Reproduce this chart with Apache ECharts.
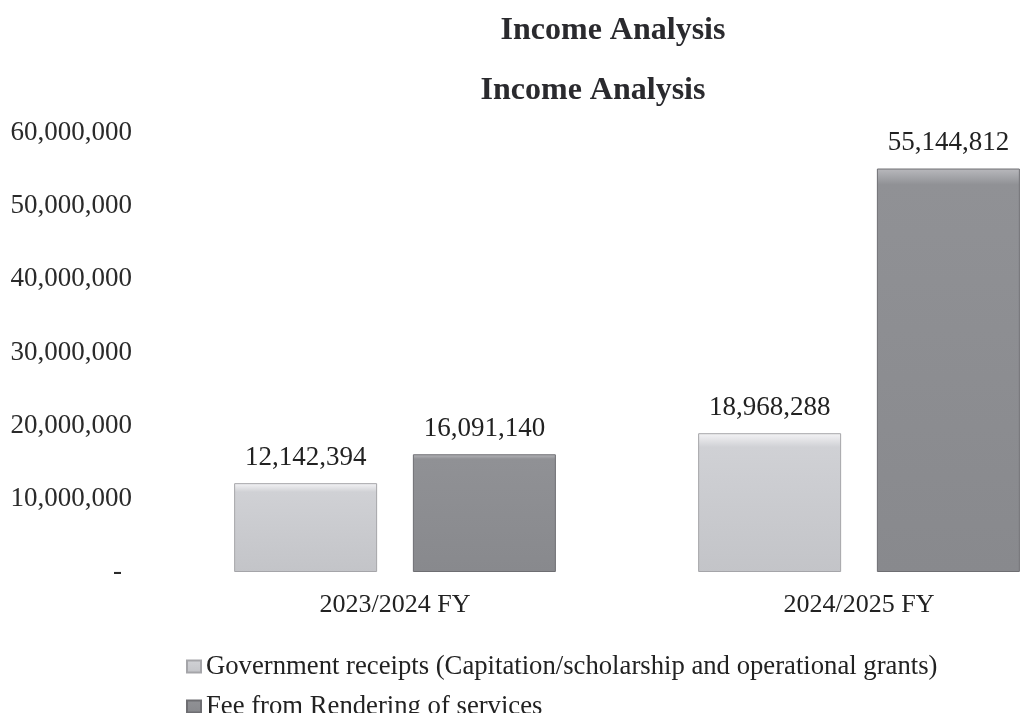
<!DOCTYPE html>
<html><head><meta charset="utf-8">
<script src="https://cdn.jsdelivr.net/npm/echarts@6/dist/echarts.min.js"></script>
<style>html,body{margin:0;padding:0;background:#fff;overflow:hidden;width:1020px;height:713px}#c{width:1100px;height:713px}</style>
</head><body><div id="c"></div>
<script>
const categories = ['2023/2024 FY', '2024/2025 FY'];
const seriesNames = ['Government receipts (Capitation/scholarship and operational grants)', 'Fee from Rendering of services'];
const governmentReceipts = [12142394, 18968288];
const feeFromServices = [16091140, 55144812];
const yTicks = [0, 10000000, 20000000, 30000000, 40000000, 50000000, 60000000];

const font = '"Liberation Serif", "DejaVu Serif", serif';
const fmt = v => Number(v).toLocaleString('en-US');
const legendText = { fontFamily: font, fontSize: 26.7, color: '#222' };

const chart = echarts.init(document.getElementById('c'));
chart.setOption({
  backgroundColor: '#fff',
  animation: false,
  title: [
    { text: 'Income Analysis', left: 608, top: 10, textAlign: 'center',
      textStyle: { fontFamily: font, fontWeight: 'bold', fontSize: 32, color: '#2a2a2e' } },
    { text: 'Income Analysis', left: 588, top: 70, textAlign: 'center',
      textStyle: { fontFamily: font, fontWeight: 'bold', fontSize: 32, color: '#2a2a2e' } }
  ],
  legend: [
    { left: 181, top: 648, itemWidth: 14, itemHeight: 12, icon: 'rect', itemGap: 0,
      data: [seriesNames[0]], textStyle: legendText },
    { left: 181, top: 688, itemWidth: 14, itemHeight: 12, icon: 'rect', itemGap: 0,
      data: [seriesNames[1]], textStyle: legendText }
  ],
  grid: { left: 163, top: 133, width: 928, height: 439, containLabel: false },
  xAxis: {
    type: 'category', data: categories,
    axisLine: { show: false }, axisTick: { show: false },
    axisLabel: { fontFamily: font, fontSize: 26, color: '#222', margin: 20 }
  },
  yAxis: {
    type: 'value', min: yTicks[0], max: yTicks[yTicks.length - 1], interval: 10000000,
    splitLine: { show: false }, axisLine: { show: false }, axisTick: { show: false },
    axisLabel: { fontFamily: font, fontSize: 27, color: '#2a2a2a', margin: 31,
      formatter: v => v === 0 ? '{z|-}' : fmt(v),
      rich: { z: { fontFamily: font, fontSize: 27, color: '#2a2a2a', padding: [0, 10, 0, 0] } } }
  },
  series: [
    { name: seriesNames[0], type: 'bar', data: governmentReceipts, barWidth: 143, barGap: '25%',
      itemStyle: {
        color: { type: 'linear', x: 0, y: 0, x2: 0, y2: 1, colorStops: [
          { offset: 0, color: '#f4f4f6' }, { offset: 0.1, color: '#d0d1d5' }, { offset: 1, color: '#c3c4c8' }] },
        borderColor: '#a5a5a9', borderWidth: 1
      },
      label: { show: true, position: 'top', distance: 12, fontFamily: font, fontSize: 27, color: '#222', formatter: p => fmt(p.value) }
    },
    { name: seriesNames[1], type: 'bar', data: feeFromServices, barWidth: 143,
      itemStyle: {
        color: { type: 'linear', x: 0, y: 0, x2: 0, y2: 1, colorStops: [
          { offset: 0, color: '#b9b9bd' }, { offset: 0.04, color: '#909195' }, { offset: 1, color: '#88898d' }] },
        borderColor: '#6e6e72', borderWidth: 1
      },
      label: { show: true, position: 'top', distance: 12, fontFamily: font, fontSize: 27, color: '#222', formatter: p => fmt(p.value) }
    }
  ]
});
</script></body></html>
